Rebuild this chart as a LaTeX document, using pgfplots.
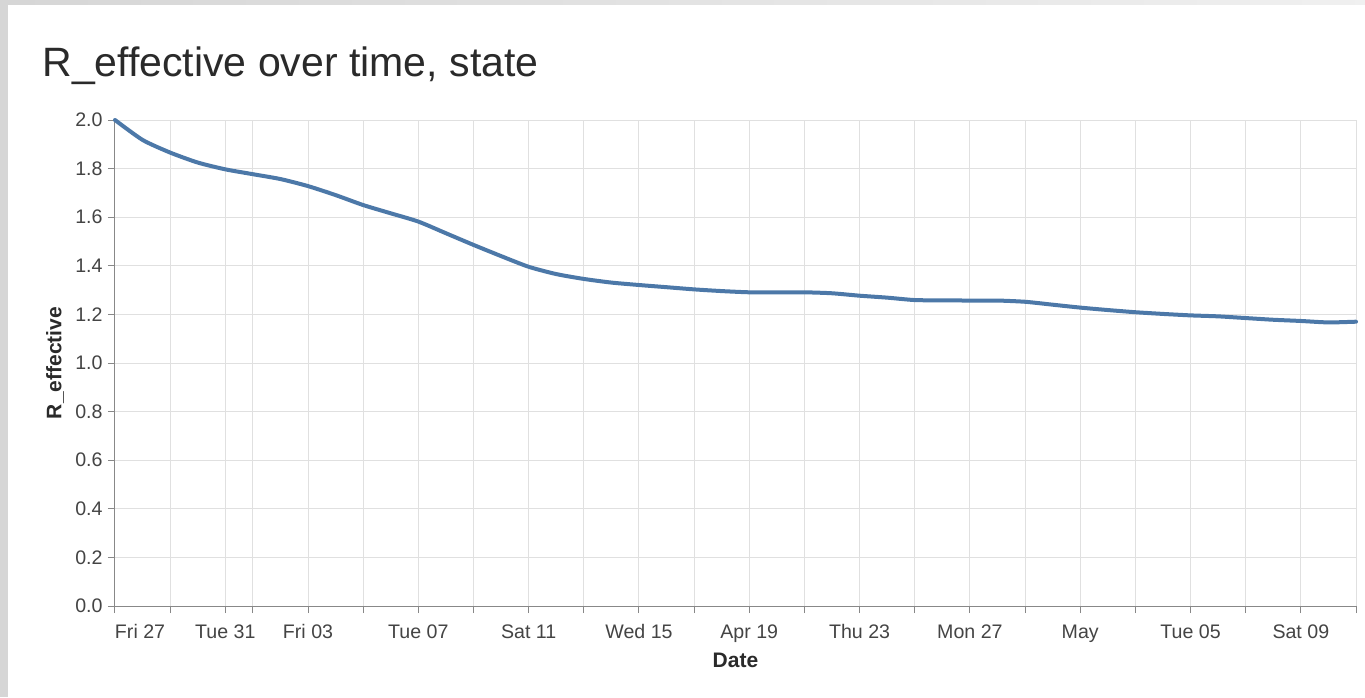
\documentclass[border=0pt]{standalone}
\usepackage{fontspec}
\setmainfont{Liberation Sans}
\usepackage{pgfplots}
\pgfplotsset{compat=1.18}
\definecolor{rline}{HTML}{4C78A8}
\definecolor{gridc}{HTML}{E0E0E0}
\definecolor{axisc}{HTML}{888888}
\definecolor{txt}{HTML}{2A2A2A}
\definecolor{lbl}{HTML}{444444}
\definecolor{strip}{HTML}{D6D6D6}
\begin{document}
\begin{tikzpicture}
\path[use as bounding box] (0,0) rectangle (682.5pt,-348.5pt);
\fill[white] (0,0) rectangle (682.5pt,-348.5pt);
\fill[strip] (0,0) rectangle (4pt,-348.5pt);
\shade[left color=strip, right color=white!94!black] (4pt,0) rectangle (682.5pt,-2pt);
\begin{axis}[
  at={(57.5pt,-303pt)}, anchor=south west,
  width=620.5pt, height=243pt, scale only axis,
  xmin=0, xmax=45, ymin=0, ymax=2,
  axis x line=bottom, axis y line=left,
  axis line style={-, draw=axisc, line width=0.5pt},
  tick align=outside, major tick length=3.5pt,
  tick style={draw=axisc, line width=0.5pt},
  grid=major, major grid style={draw=gridc, line width=0.5pt},
  xtick={0,2,4,5,7,9,11,13,15,17,19,21,23,25,27,29,31,33,35,37,39,41,43,45},
  xticklabels={{\makebox[0pt][l]{Fri 27}},{},Tue 31,{},Fri 03,{},Tue 07,{},Sat 11,{},Wed 15,{},Apr 19,{},Thu 23,{},Mon 27,{},May,{},Tue 05,{},Sat 09,{}},
  ytick={0,0.2,0.4,0.6,0.8,1.0,1.2,1.4,1.6,1.8,2.0},
  /pgf/number format/fixed,
  /pgf/number format/fixed zerofill,
  /pgf/number format/precision=1,
  /pgf/number format/assume math mode=true,
  tick label style={font=\fontsize{9.8}{12}\selectfont, text=lbl},
  xticklabel style={anchor=base, inner sep=0pt, yshift=-12.5pt},
  yticklabel style={anchor=east, inner sep=0pt, xshift=-2.5pt},
  xlabel={Date}, ylabel={R\_effective},
  label style={font=\fontsize{10.5}{12}\selectfont\bfseries, text=txt},
  xlabel style={at={(axis description cs:0.5,-0.1255)}, anchor=base, inner sep=0pt},
  ylabel style={at={(axis description cs:-0.0484,0.5)}, anchor=center, inner sep=0pt},
  title={R\_effective over time, state},
  title style={at={(axis description cs:-0.0588,1.0658)}, anchor=base west, inner sep=0pt, font=\fontsize{20.5}{24}\selectfont, text=txt},
  clip=false,
]
\addplot[rline, line width=2pt, line join=round, line cap=round, smooth, tension=0.4] table[row sep=\\] {
x y\\
0 2.000\\
1 1.918\\
2 1.866\\
3 1.825\\
4 1.797\\
5 1.777\\
6 1.757\\
7 1.728\\
8 1.691\\
9 1.650\\
10 1.616\\
11 1.582\\
12 1.534\\
13 1.486\\
14 1.440\\
15 1.396\\
16 1.366\\
17 1.346\\
18 1.331\\
19 1.321\\
20 1.312\\
21 1.303\\
22 1.296\\
23 1.291\\
24 1.291\\
25 1.291\\
26 1.287\\
27 1.277\\
28 1.269\\
29 1.259\\
30 1.258\\
31 1.257\\
32 1.257\\
33 1.252\\
34 1.240\\
35 1.228\\
36 1.218\\
37 1.209\\
38 1.202\\
39 1.196\\
40 1.192\\
41 1.185\\
42 1.178\\
43 1.173\\
44 1.167\\
45 1.170\\
};
\end{axis}
\end{tikzpicture}
\end{document}
